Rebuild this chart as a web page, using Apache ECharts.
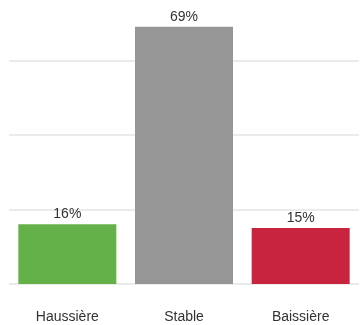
<!DOCTYPE html>
<html>
<head>
<meta charset="utf-8">
<script src="https://cdn.jsdelivr.net/npm/echarts@6/dist/echarts.min.js"></script>
<style>
  html, body { margin: 0; padding: 0; background: #fff; }
  #chart { width: 360px; height: 325px; }
</style>
</head>
<body>
<div id="chart"></div>
<script>
// Market outlook shares
const categories = ['Haussière', 'Stable', 'Baissière'];
const shares = [16, 69, 15];
const barColors = ['#63b148', '#969696', '#c9243f'];

const chart = echarts.init(document.getElementById('chart'), null, { renderer: 'canvas' });

chart.setOption({
  animation: false,
  grid: { left: 9, right: 1, top: 23, bottom: 41 },
  xAxis: {
    type: 'category',
    data: categories,
    axisLine: { show: false },
    axisTick: { show: false },
    axisLabel: {
      margin: 26,
      fontFamily: 'Liberation Sans, Arial, sans-serif',
      fontSize: 14,
      color: '#333'
    }
  },
  yAxis: {
    type: 'value',
    min: 0,
    max: 70,
    interval: 20,
    axisLabel: { show: false },
    axisLine: { show: false },
    axisTick: { show: false },
    splitLine: { show: true, showMaxLine: false, lineStyle: { color: '#e4e4e4', width: 1.5 } }
  },
  series: [{
    type: 'bar',
    barWidth: '84%',
    data: shares.map((v, i) => ({ value: v, itemStyle: { color: barColors[i] } })),
    label: {
      show: true,
      position: 'top',
      distance: 3,
      formatter: '{c}%',
      fontFamily: 'Liberation Sans, Arial, sans-serif',
      fontSize: 14,
      color: '#333'
    }
  }]
});
</script>
</body>
</html>
